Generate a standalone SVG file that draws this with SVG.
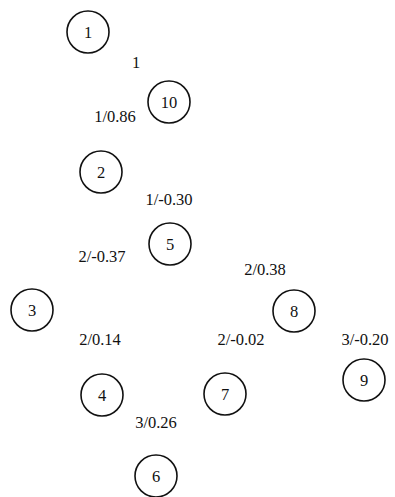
<svg xmlns="http://www.w3.org/2000/svg" width="395" height="497" viewBox="0 0 395 497">
<style>
.n circle{fill:none;stroke:#111;stroke-width:1.6}
text{font-family:"Liberation Serif","Times New Roman","DejaVu Serif",serif;font-size:16.5px;fill:#111}
.n text{text-anchor:middle}
.l{text-anchor:middle}
</style>
<rect width="395" height="497" fill="#fff"/>
<g id="connectors"></g>
<g id="node1" class="n"><circle cx="88" cy="32" r="21"/><text x="88" y="38">1</text></g>
<g id="node10" class="n"><circle cx="169" cy="102" r="21"/><text x="169" y="108">10</text></g>
<g id="node2" class="n"><circle cx="101" cy="172" r="21"/><text x="101" y="178">2</text></g>
<g id="node5" class="n"><circle cx="170" cy="244" r="21"/><text x="170" y="250">5</text></g>
<g id="node3" class="n"><circle cx="32" cy="310" r="21"/><text x="32" y="316">3</text></g>
<g id="node8" class="n"><circle cx="294" cy="311" r="21"/><text x="294" y="317">8</text></g>
<g id="node9" class="n"><circle cx="364" cy="380" r="21"/><text x="364" y="386">9</text></g>
<g id="node4" class="n"><circle cx="102" cy="395" r="21"/><text x="102" y="401">4</text></g>
<g id="node7" class="n"><circle cx="225" cy="394" r="21"/><text x="225" y="400">7</text></g>
<g id="node6" class="n"><circle cx="156" cy="476" r="21"/><text x="156" y="482">6</text></g>
<g id="labels">
<text class="l" x="136" y="68">1</text>
<text class="l" x="115" y="122">1/0.86</text>
<text class="l" x="169" y="205">1/-0.30</text>
<text class="l" x="102" y="262">2/-0.37</text>
<text class="l" x="265" y="275">2/0.38</text>
<text class="l" x="100" y="345">2/0.14</text>
<text class="l" x="241" y="345">2/-0.02</text>
<text class="l" x="365" y="345">3/-0.20</text>
<text class="l" x="156" y="428">3/0.26</text>
</g>
</svg>
